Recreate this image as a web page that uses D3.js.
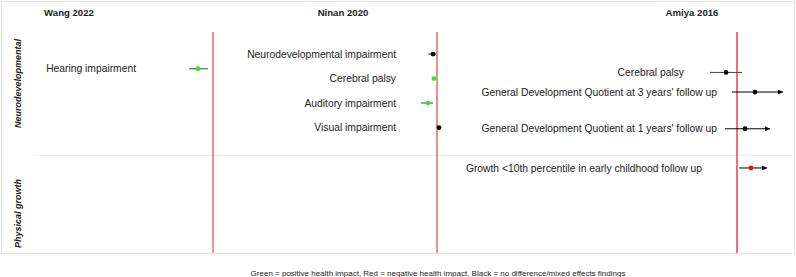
<!DOCTYPE html>
<meta charset="utf-8">
<head>
  <title>Forest panels</title>
</head>
<style>
  body { margin: 0; background: white; }
  text { font-family: "Liberation Sans", Arial, Helvetica, sans-serif; fill: #222; }
  .title { font-size: 9.6px; font-weight: bold; text-anchor: middle; }
  .section { font-size: 9px; font-weight: bold; font-style: italic; text-anchor: middle; }
  .label { font-size: 10.3px; text-anchor: end; }
  .note { font-size: 8px; text-anchor: middle; }
</style>
<body>
<script src="https://d3js.org/d3.v7.min.js"></script>
<div id="chart"></div>
<script>

// studies (panels) and sections
var studies = ["Wang 2022", "Ninan 2020", "Amiya 2016"];
var sections = ["Neurodevelopmental", "Physical growth"];

// outcomes: study, section, label, row position, estimate, lower, upper, effect colour, truncated upper CI
var outStudy   = ["Wang 2022", "Ninan 2020", "Ninan 2020", "Ninan 2020", "Ninan 2020", "Amiya 2016", "Amiya 2016", "Amiya 2016", "Amiya 2016"];
var outSection = ["Neurodevelopmental", "Neurodevelopmental", "Neurodevelopmental", "Neurodevelopmental", "Neurodevelopmental", "Neurodevelopmental", "Neurodevelopmental", "Neurodevelopmental", "Physical growth"];
var outLabel   = ["Hearing impairment", "Neurodevelopmental impairment", "Cerebral palsy", "Auditory impairment", "Visual impairment",
                  "Cerebral palsy", "General Development Quotient at 3 years' follow up", "General Development Quotient at 1 years' follow up",
                  "Growth <10th percentile in early childhood follow up"];
var outRow     = [3.0, 1.8, 3.8, 5.8, 7.8, 3.3, 4.9, 7.9, 11.1];
var outEst     = [-1.5, -0.4, -0.3, -0.9, 0.2, -1.1, 1.8, 0.8, 1.4];
var outLow     = [-2.4, -0.9, -0.3, -1.6, 0.2, -2.7, -0.5, -1.2, 0.2];
var outHigh    = [-0.5, -0.1, -0.3, -0.4, 0.2, 0.5, 4.6, 3.3, 3.0];
var outEffect  = ["positive", "none", "positive", "positive", "none", "none", "none", "none", "negative"];
var outArrow   = [false, false, false, false, false, false, true, true, true];

var note = "Green = positive health impact, Red = negative health impact, Black = no difference/mixed effects findings";

// where each outcome label ends (layout, same order as the outcome arrays)
var labelEnd = [136, 396, 396, 396, 396, 684, 717, 717, 702];

var outcomes = outLabel.map(function(d, i) {
  return { study: outStudy[i], section: outSection[i], label: d, row: outRow[i],
           est: outEst[i], low: outLow[i], high: outHigh[i], effect: outEffect[i],
           arrow: outArrow[i], labelX: labelEnd[i] };
});

var width = 796, height = 277;
var frame = { left: 1, top: 1, right: 794, bottom: 253 };

// layout of each panel: where the no-effect line sits, where the title goes
var panelLayout = {
  "Wang 2022":  { nullX: 213, titleX: 69,  line: "#f07575", lineW: 1.6 },
  "Ninan 2020": { nullX: 437, titleX: 343, line: "#d81e1e", lineW: 1 },
  "Amiya 2016": { nullX: 737, titleX: 692, line: "#f07070", lineW: 2 }
};

var color = d3.scaleOrdinal()
  .domain(["positive", "negative", "none"])
  .range(["#2ee82e", "#e81010", "#000000"]);

var y = d3.scaleLinear().domain([0, 18]).range([32, 252.5]);
var sectionY = d3.scaleOrdinal().domain(sections).range([83.5, 213.5]);

var svg = d3.select("#chart").append("svg")
  .attr("width", width)
  .attr("height", height);

svg.append("rect")
  .attr("x", frame.left + 0.5).attr("y", frame.top + 0.5)
  .attr("width", frame.right - frame.left).attr("height", frame.bottom - frame.top)
  .attr("fill", "none").attr("stroke", "#e4e4e4");

svg.append("line")
  .attr("x1", 33).attr("x2", frame.right)
  .attr("y1", 155.5).attr("y2", 155.5)
  .attr("stroke", "#eeeeee");

svg.selectAll(".section")
  .data(sections)
  .enter().append("text")
  .attr("class", "section")
  .attr("transform", function(d) { return "translate(20.5," + sectionY(d) + ") rotate(-90)"; })
  .text(function(d) { return d; });

svg.append("defs").append("marker")
  .attr("id", "arrow")
  .attr("viewBox", "0 0 10 10")
  .attr("refX", 10).attr("refY", 5)
  .attr("markerWidth", 5).attr("markerHeight", 5)
  .attr("markerUnits", "userSpaceOnUse")
  .attr("orient", "auto")
  .append("path")
  .attr("d", "M0,0L10,5L0,10Z")
  .attr("fill", "#000");

studies.forEach(function(s) {
  var p = panelLayout[s];
  var x = d3.scaleLinear().domain([-5, 5]).range([p.nullX - 50, p.nullX + 50]);
  var g = svg.append("g");

  g.append("text")
    .attr("class", "title")
    .attr("x", p.titleX).attr("y", 16)
    .text(s);

  g.append("line")
    .attr("x1", x(0)).attr("x2", x(0))
    .attr("y1", 32).attr("y2", frame.bottom)
    .attr("stroke", p.line).attr("stroke-width", p.lineW);

  var rows = outcomes.filter(function(d) { return d.study === s; });

  g.selectAll(".label")
    .data(rows)
    .enter().append("text")
    .attr("class", "label")
    .attr("x", function(d) { return d.labelX; })
    .attr("y", function(d) { return y(d.row); })
    .attr("dy", "0.35em")
    .text(function(d) { return d.label; });

  g.selectAll(".ci")
    .data(rows.filter(function(d) { return d.high > d.low; }))
    .enter().append("line")
    .attr("class", "ci")
    .attr("x1", function(d) { return x(d.low); })
    .attr("x2", function(d) { return x(d.high); })
    .attr("y1", function(d) { return y(d.row); })
    .attr("y2", function(d) { return y(d.row); })
    .attr("stroke", function(d) { return d.arrow ? "#000" : "#444"; })
    .attr("stroke-width", 1)
    .attr("marker-end", function(d) { return d.arrow ? "url(#arrow)" : null; });

  g.selectAll(".pt")
    .data(rows)
    .enter().append("circle")
    .attr("class", "pt")
    .attr("cx", function(d) { return x(d.est); })
    .attr("cy", function(d) { return y(d.row); })
    .attr("r", 2.4)
    .attr("fill", function(d) { return color(d.effect); });
});

svg.append("text")
  .attr("class", "note")
  .attr("x", 438).attr("y", 275.5)
  .text(note);

</script>
</body>
